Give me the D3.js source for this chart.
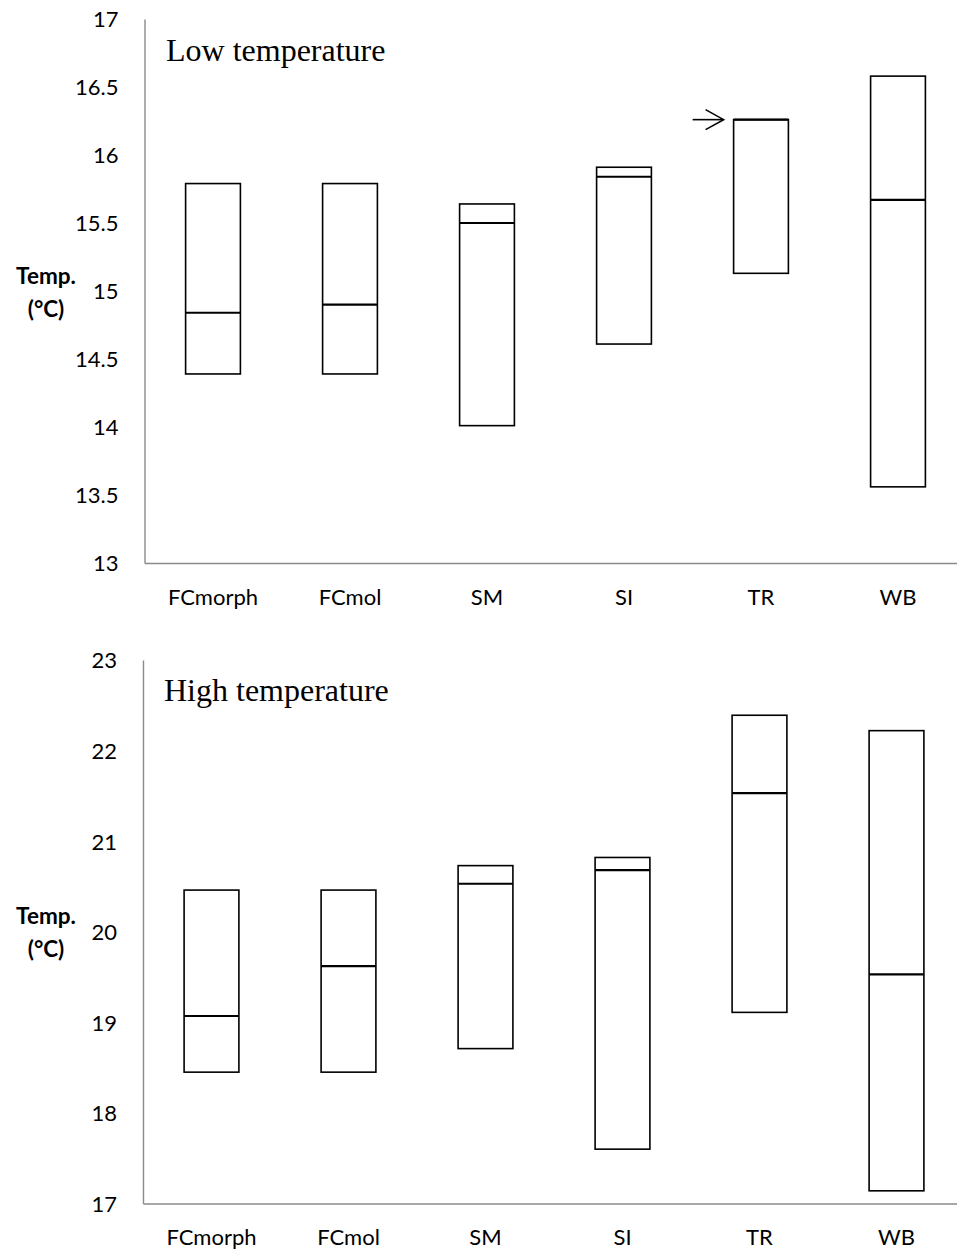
<!DOCTYPE html>
<html>
<head>
<meta charset="utf-8">
<script src="https://cdn.jsdelivr.net/npm/d3@7"></script>
<style>
  html, body { margin: 0; padding: 0; background: #fff; }
  svg { display: block; }
</style>
</head>
<body>
<svg id="chart" width="957" height="1251"></svg>
<script>
// Temperature ranges (min, median, max) per group
const categories = ["FCmorph", "FCmol", "SM", "SI", "TR", "WB"];

const lowMin    = [14.39, 14.39, 14.01, 14.61, 15.13, 13.56];
const lowMedian = [14.84, 14.90, 15.50, 15.84, 16.26, 15.67];
const lowMax    = [15.79, 15.79, 15.64, 15.91, 16.26, 16.58];
const lowTicks  = [13, 13.5, 14, 14.5, 15, 15.5, 16, 16.5, 17];

const highMin    = [18.45, 18.45, 18.71, 17.60, 19.11, 17.14];
const highMedian = [19.07, 19.62, 20.53, 20.68, 21.53, 19.53];
const highMax    = [20.46, 20.46, 20.73, 20.82, 22.39, 22.22];
const highTicks  = [17, 18, 19, 20, 21, 22, 23];

const svg = d3.select("#chart");
const sansFont = "Lato, 'Open Sans', sans-serif";
const axisGrey = "#8a8a8a";

function drawPanel(opts) {
  const rows = categories.map((c, i) => ({
    cat: c, min: opts.min[i], med: opts.med[i], max: opts.max[i]
  }));

  const x = d3.scaleBand()
    .domain(categories)
    .range([opts.left, opts.left + 6 * 137])
    .paddingInner(0.6)
    .paddingOuter(0.3);

  const y = d3.scaleLinear()
    .domain(d3.extent(opts.ticks))
    .range([opts.bottom, opts.top]);

  const g = svg.append("g");

  // y axis
  const yAxis = g.append("g")
    .attr("transform", `translate(${opts.left},0)`)
    .call(d3.axisLeft(y).tickValues(opts.ticks).tickSize(0).tickPadding(26)
      .tickFormat(d3.format("~g")));
  yAxis.select(".domain").attr("stroke", axisGrey).attr("stroke-width", 1.4);
  yAxis.selectAll("text")
    .attr("dy", "0.36em")
    .attr("font-family", sansFont)
    .attr("font-size", 22)
    .attr("fill", "#000");

  // x axis
  const xAxis = g.append("g")
    .attr("transform", `translate(0,${opts.bottom})`)
    .call(d3.axisBottom(x).tickSize(0).tickPadding(26).tickSizeOuter(0));
  xAxis.select(".domain").attr("stroke", axisGrey).attr("stroke-width", 1.4);
  xAxis.selectAll("text")
    .attr("font-family", sansFont)
    .attr("font-size", 22)
    .attr("fill", "#000");

  // boxes: min to max
  g.append("g").selectAll("rect")
    .data(rows)
    .join("rect")
    .attr("x", d => x(d.cat))
    .attr("y", d => y(d.max))
    .attr("width", x.bandwidth())
    .attr("height", d => y(d.min) - y(d.max))
    .attr("fill", "none")
    .attr("stroke", "#000")
    .attr("stroke-width", 1.6);

  // median lines
  g.append("g").selectAll("line")
    .data(rows)
    .join("line")
    .attr("x1", d => x(d.cat))
    .attr("x2", d => x(d.cat) + x.bandwidth())
    .attr("y1", d => y(d.med))
    .attr("y2", d => y(d.med))
    .attr("stroke", "#000")
    .attr("stroke-width", 2.2);

  // panel title
  g.append("text")
    .attr("x", opts.titleX)
    .attr("y", opts.titleY)
    .attr("font-family", "'Liberation Serif', 'Times New Roman', serif")
    .attr("font-size", 32)
    .attr("fill", "#000")
    .text(opts.title);

  // y axis label
  const lab = g.append("text")
    .attr("font-family", sansFont)
    .attr("font-weight", "bold")
    .attr("font-size", 22.5)
    .attr("text-anchor", "middle")
    .attr("fill", "#000");
  lab.append("tspan").attr("x", 46).attr("y", opts.labelY).text("Temp.");
  lab.append("tspan").attr("x", 46).attr("y", opts.labelY + 33).text("(°C)");

  return { x, y, g, rows };
}

const low = drawPanel({
  min: lowMin, med: lowMedian, max: lowMax, ticks: lowTicks,
  left: 144.5, top: 19, bottom: 563,
  title: "Low temperature", titleX: 166, titleY: 61,
  labelY: 283.5
});

drawPanel({
  min: highMin, med: highMedian, max: highMax, ticks: highTicks,
  left: 143, top: 660, bottom: 1203.5,
  title: "High temperature", titleX: 164, titleY: 701,
  labelY: 923.5
});

// arrow marking the TR median that coincides with its maximum
{
  const trIdx = categories.indexOf("TR");
  const tipX = low.x("TR") - 10;
  const tipY = low.y(lowMedian[trIdx]);
  const arrow = low.g.append("g")
    .attr("stroke", "#000")
    .attr("stroke-width", 1.6)
    .attr("fill", "none");
  arrow.append("line")
    .attr("x1", tipX - 31).attr("y1", tipY)
    .attr("x2", tipX).attr("y2", tipY);
  arrow.append("path")
    .attr("d", `M${tipX - 18},${tipY - 10} L${tipX},${tipY} L${tipX - 18},${tipY + 10}`);
}
</script>
</body>
</html>
